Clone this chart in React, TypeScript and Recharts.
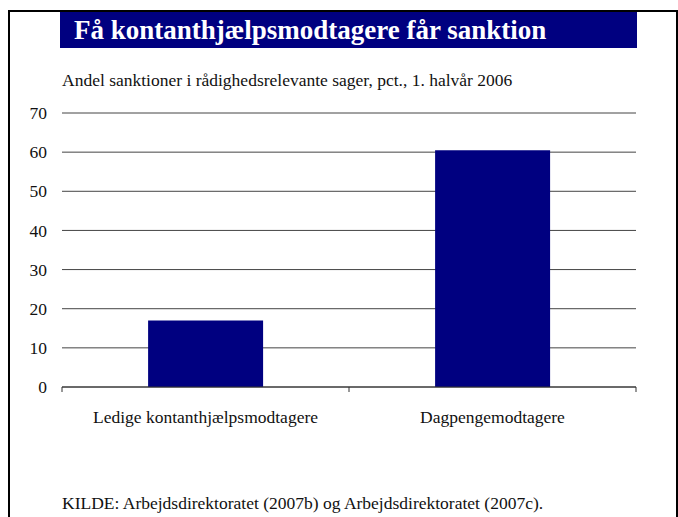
import { BarChart, Bar, XAxis, YAxis, CartesianGrid } from "recharts";

const categories = ["Ledige kontanthjælpsmodtagere", "Dagpengemodtagere"];
const shareValues = [17, 60.5];
const yTicks = [0, 10, 20, 30, 40, 50, 60, 70];

const data = categories.map((name, i) => ({ name, value: shareValues[i] }));

const FONT = "'Liberation Serif', 'DejaVu Serif', serif";
const NAVY = "#000080";
const TICK_SIZE = 5;
const TICK_MARGIN = 8;
const TEXT_SIZE = 17.5;

// category label plus tick marks at the band edges (like the original)
const CategoryTick = (props: any) => {
  const { x, y, payload, index, visibleTicksCount } = props;
  const axisY = y - TICK_SIZE - TICK_MARGIN;
  const half = payload?.offset ?? 0;
  const isLast = index === visibleTicksCount - 1;
  return (
    <g>
      <line x1={x - half} x2={x - half} y1={axisY} y2={axisY + TICK_SIZE} stroke="#333" />
      {isLast && (
        <line x1={x + half} x2={x + half} y1={axisY} y2={axisY + TICK_SIZE} stroke="#333" />
      )}
      <text
        x={x}
        y={axisY + 36}
        textAnchor="middle"
        fill="#111"
        style={{ fontFamily: FONT, fontSize: TEXT_SIZE }}
      >
        {payload.value}
      </text>
    </g>
  );
};

export default function App() {
  return (
    <div
      style={{
        position: "absolute",
        left: 0,
        top: 0,
        width: 678,
        height: 517,
        overflow: "hidden",
        background: "#fff",
        fontFamily: FONT,
      }}
    >
      <BarChart
        width={678}
        height={517}
        data={data}
        margin={{ top: 113, right: 0, left: 0, bottom: 0 }}
        barCategoryGap="30%"
      >
        <CartesianGrid yAxisId="left" vertical={false} stroke="#444" />
        <XAxis
          dataKey="name"
          height={130}
          axisLine={{ stroke: "#333" }}
          tickLine={false}
          tickSize={TICK_SIZE}
          tickMargin={TICK_MARGIN}
          tick={<CategoryTick />}
          interval={0}
        />
        <YAxis
          yAxisId="left"
          orientation="left"
          width={62}
          domain={[0, 70]}
          ticks={yTicks}
          axisLine={false}
          tickLine={false}
          tickMargin={9}
          tick={{ fill: "#111", fontSize: TEXT_SIZE, fontFamily: FONT }}
        />
        <YAxis
          yAxisId="right"
          orientation="right"
          width={42}
          domain={[0, 70]}
          ticks={yTicks}
          axisLine={false}
          tickLine={false}
          tickMargin={8}
          tick={{ fill: "#111", fontSize: TEXT_SIZE, fontFamily: FONT, textAnchor: "start" }}
        />
        <Bar yAxisId="left" dataKey="value" fill={NAVY} isAnimationActive={false} />
      </BarChart>

      {/* frame */}
      <div
        style={{
          position: "absolute",
          left: 8,
          top: 10,
          width: 670,
          height: 520,
          boxSizing: "border-box",
          borderLeft: "2px solid #000",
          borderTop: "2px solid #000",
          borderRight: "2px solid #000",
        }}
      />

      {/* title bar */}
      <div
        style={{
          position: "absolute",
          left: 60,
          top: 12,
          width: 577,
          height: 36,
          background: NAVY,
          color: "#fff",
          fontWeight: "bold",
          fontSize: 27,
          lineHeight: "36px",
          paddingLeft: 14,
          boxSizing: "border-box",
          whiteSpace: "nowrap",
        }}
      >
        Få kontanthjælpsmodtagere får sanktion
      </div>

      <div
        style={{
          position: "absolute",
          left: 62,
          top: 69,
          fontSize: TEXT_SIZE,
          lineHeight: "22px",
          color: "#111",
          whiteSpace: "nowrap",
        }}
      >
        Andel sanktioner i rådighedsrelevante sager, pct., 1. halvår 2006
      </div>

      <div
        style={{
          position: "absolute",
          left: 62,
          top: 492,
          fontSize: TEXT_SIZE,
          lineHeight: "22px",
          color: "#111",
          whiteSpace: "nowrap",
        }}
      >
        KILDE: Arbejdsdirektoratet (2007b) og Arbejdsdirektoratet (2007c).
      </div>
    </div>
  );
}
